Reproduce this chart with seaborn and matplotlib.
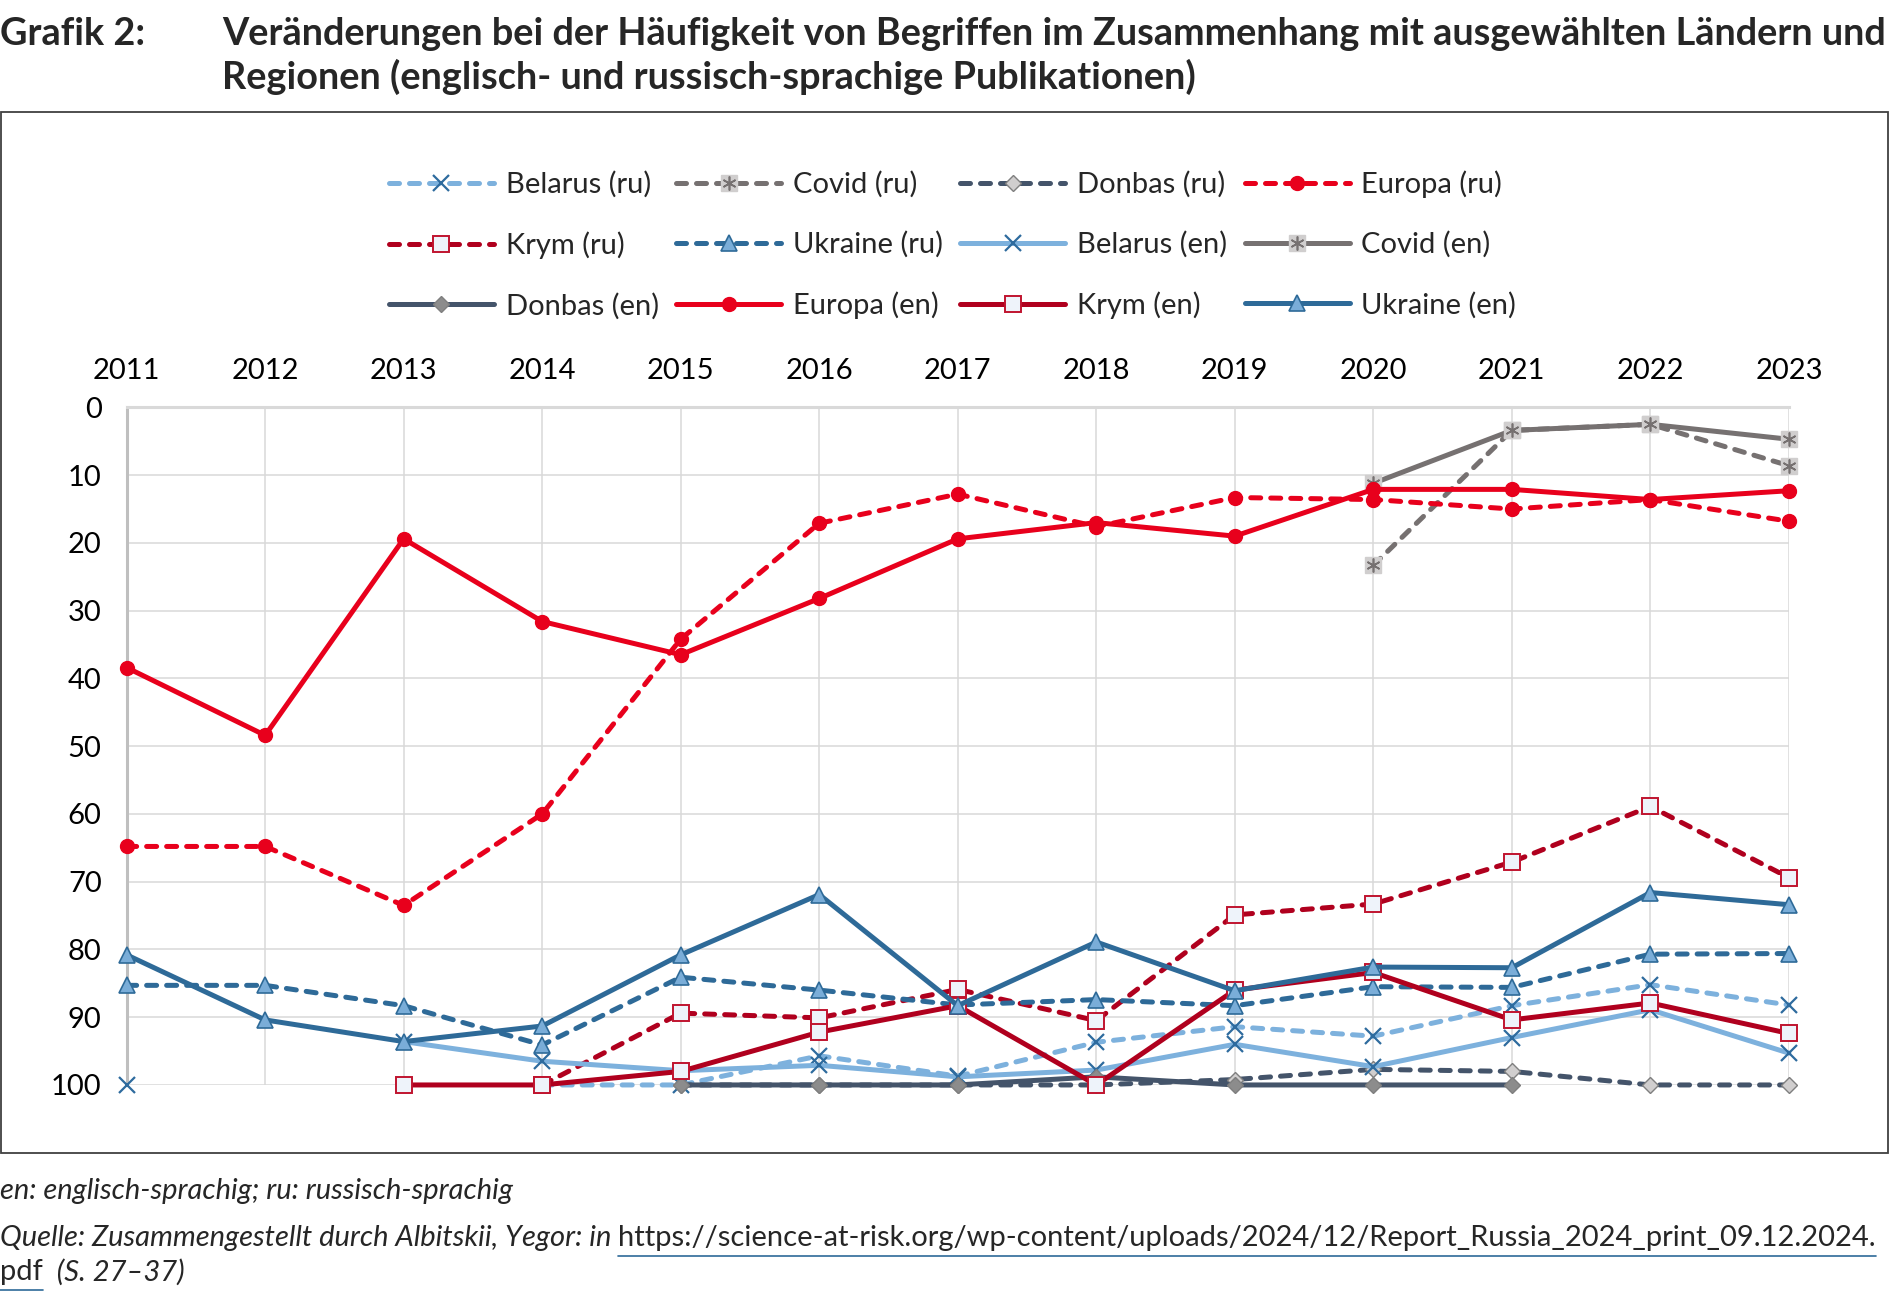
import numpy as np
import pandas as pd
import matplotlib
matplotlib.use("Agg")
import matplotlib.pyplot as plt
import seaborn as sns
from matplotlib.lines import Line2D
from matplotlib.patches import Rectangle

# ---------------- data ----------------
years = list(range(2011, 2024))
nan = np.nan
belarus_ru = [nan, nan, nan, 100, 100, 95.7, 98.7, 93.7, 91.4, 92.8, 88.3, 85.2, 88.2]
covid_ru = [nan, nan, nan, nan, nan, nan, nan, nan, nan, 23.3, 3.4, 2.5, 8.6]
donbas_ru = [nan, nan, nan, nan, 100, 100, 100, 100, 99.2, 97.7, 98.0, 100, 100]
europa_ru = [64.8, 64.8, 73.5, 60.0, 34.2, 17.1, 12.8, 17.6, 13.3, 13.6, 15.0, 13.6, 16.8]
krym_ru = [nan, nan, nan, 100, 89.4, 90.1, 85.9, 90.5, 74.9, 73.3, 67.1, 58.9, 69.4]
ukraine_ru = [85.3, 85.3, 88.3, 94.1, 84.1, 86.0, 88.2, 87.4, 88.3, 85.5, 85.6, 80.7, 80.6]
belarus_en = [100, nan, 93.6, 96.5, 97.9, 97.1, 98.8, 97.8, 94.0, 97.3, 93.0, 88.9, 95.3]
covid_en = [nan, nan, nan, nan, nan, nan, nan, nan, nan, 11.2, 3.4, 2.5, 4.7]
donbas_en = [nan, nan, nan, nan, 100, 100, 100, 98.8, 100, 100, 100, nan, nan]
europa_en = [38.4, 48.4, 19.4, 31.6, 36.5, 28.2, 19.4, 17.0, 19.0, 12.1, 12.1, 13.6, 12.3]
krym_en = [nan, nan, 100, 100, 98.0, 92.2, 88.3, 100, 86.0, 83.4, 90.4, 87.9, 92.4]
ukraine_en = [80.8, 90.4, 93.6, 91.3, 80.8, 71.9, 88.3, 78.9, 86.1, 82.6, 82.7, 71.6, 73.4]

series_names = ["Belarus (ru)", "Covid (ru)", "Donbas (ru)", "Europa (ru)", "Krym (ru)", "Ukraine (ru)",
                "Belarus (en)", "Covid (en)", "Donbas (en)", "Europa (en)", "Krym (en)", "Ukraine (en)"]
series_values = [belarus_ru, covid_ru, donbas_ru, europa_ru, krym_ru, ukraine_ru,
                 belarus_en, covid_en, donbas_en, europa_en, krym_en, ukraine_en]

title_1 = "Veränderungen bei der Häufigkeit von Begriffen im Zusammenhang mit ausgewählten Ländern und"
title_2 = "Regionen (englisch- und russisch-sprachige Publikationen)"

# ---------------- styles ----------------
DASH = (0, (2.0, 2.0))
LW = 3.6
styles = {
    "Belarus": dict(color="#7DB1DD", marker="x", ms=11, mfc="#2E6B9E", mec="#2E6B9E", mew=1.6),
    "Covid":   dict(color="#767171", marker="s", ms=11, mfc="#D0CECE", mec="#D0CECE", mew=1.0),
    "Donbas":  dict(color="#44546A", marker="D", ms=8, mfc="#8C8C8C", mec="#7F7F7F", mew=1.0),
    "Europa":  dict(color="#E8001C", marker="o", ms=10, mfc="#E8001C", mec="#E8001C", mew=1.0),
    "Krym":    dict(color="#B0001E", marker="s", ms=11, mfc="#EEF3FA", mec="#C0142F", mew=1.4),
    "Ukraine": dict(color="#2E6A98", marker="^", ms=11.5, mfc="#7AADD8", mec="#2E6A98", mew=1.2),
}

def style_for(name):
    base = name.split(" ")[0]
    st = dict(styles[base])
    if name.endswith("(ru)") and base == "Donbas":
        st["mfc"] = "#D0CECE"
    st["ls"] = DASH if name.endswith("(ru)") else "-"
    return st

def segments(vals):
    seg, cur, prev_nan = [], 0, True
    for v in vals:
        if np.isnan(v):
            prev_nan = True
            seg.append(-1)
        else:
            if prev_nan:
                cur += 1
            prev_nan = False
            seg.append(cur)
    return seg

sns.set_theme(style="white")
plt.rcParams['font.family'] = ['Lato', 'DejaVu Sans']

fig = plt.figure(figsize=(18.9, 13.02), dpi=100)
ax = fig.add_axes([0.0670, 0.1667, 0.8795, 0.5204])

for i, (name, vals) in enumerate(zip(series_names, series_values)):
    st = style_for(name)
    df = pd.DataFrame({"year": years, "value": vals, "seg": segments(vals)})
    df = df.dropna()
    sns.lineplot(data=df, x="year", y="value", units="seg", estimator=None, sort=False,
                 color=st["color"], linestyle=st["ls"], linewidth=LW,
                 marker=st["marker"], markersize=st["ms"], markerfacecolor=st["mfc"],
                 markeredgecolor=st["mec"], markeredgewidth=st["mew"],
                 dash_capstyle="round", clip_on=False, ax=ax, legend=False, zorder=3 + i * 0.1)
    if name.startswith("Covid"):
        ax.plot(df["year"], df["value"], linestyle="none", marker=(6, 2, 0), ms=10,
                mec="#767171", mew=1.2, clip_on=False, zorder=3.05 + i * 0.1)

ax.set_xlim(2011, 2023)
ax.set_ylim(100, 0)
ax.set_xticks(years)
ax.set_xticklabels([str(y) for y in years])
ax.set_yticks(range(0, 101, 10))
ax.xaxis.tick_top()
ax.tick_params(axis="both", length=0, labelsize=21, colors="black")
ax.tick_params(axis="x", pad=17)
ax.tick_params(axis="y", pad=18)
ax.set_xlabel("")
ax.set_ylabel("")
ax.set_axisbelow(True)
ax.grid(True, color="#D9D9D9", lw=1.1)
ax.spines["right"].set_visible(False)
ax.spines["bottom"].set_visible(False)
ax.spines["left"].set_color("#BFBFBF")
ax.spines["left"].set_linewidth(2.2)
ax.spines["top"].set_color("#D9D9D9")
ax.spines["top"].set_linewidth(2.2)

# legend (row-major order like the reference)
handles = []
for name in series_names:
    st = style_for(name)
    handles.append(Line2D([], [], color=st["color"], ls=st["ls"], lw=LW, marker=st["marker"],
                          ms=st["ms"], mfc=st["mfc"], mec=st["mec"], mew=st["mew"],
                          dash_capstyle="round"))
covid_star = Line2D([], [], linestyle="none", marker=(6, 2, 0), ms=10, mec="#767171", mew=1.2)
handles[1] = (handles[1], covid_star)
handles[7] = (handles[7], covid_star)
order = [0, 4, 8, 1, 5, 9, 2, 6, 10, 3, 7, 11]
leg = fig.legend([handles[k] for k in order], [series_names[k] for k in order],
                 loc="center", bbox_to_anchor=(0.504, 0.812), ncol=4, frameon=False,
                 fontsize=21, handlelength=3.6, handletextpad=0.4, columnspacing=0.6,
                 labelspacing=1.15, borderpad=0)

# frame around chart
fig.patches.append(Rectangle((0.0005, 0.1144), 0.9985, 0.7996, transform=fig.transFigure,
                             fill=False, edgecolor="#404040", lw=1.3))

# title
fig.text(0.0, 1 - 34 / 1302, "Grafik 2:", fontsize=27.3, fontweight="bold", va="center", ha="left")
fig.text(222 / 1890, 1 - 34 / 1302, title_1, fontsize=27.3, fontweight="bold", va="center", ha="left")
fig.text(222 / 1890, 1 - 77 / 1302, title_2, fontsize=27.3, fontweight="bold", va="center", ha="left")

# footer
FS = 21
fig.text(0.0, 1 - 1191 / 1302, "en: englisch-sprachig; ru: russisch-sprachig", fontsize=FS,
         style="italic", va="center", ha="left")
fig.canvas.draw()
r = fig.canvas.get_renderer()
t1 = fig.text(0.0, 1 - 1238 / 1302, "Quelle: Zusammengestellt durch Albitskii, Yegor: in ", fontsize=FS,
              style="italic", va="center", ha="left")
bb = t1.get_window_extent(r)
x_url = bb.x1 / fig.bbox.width
t2 = fig.text(x_url, 1 - 1238 / 1302,
              "https://science-at-risk.org/wp-content/uploads/2024/12/Report_Russia_2024_print_09.12.2024.",
              fontsize=FS, va="center", ha="left")
bb2 = t2.get_window_extent(r)
fig.add_artist(Line2D([x_url, bb2.x1 / fig.bbox.width], [1 - 1256 / 1302] * 2,
                      transform=fig.transFigure, color="#2E6A98", lw=1.2))
t3 = fig.text(0.0, 1 - 1272 / 1302, "pdf", fontsize=FS, va="center", ha="left")
bb3 = t3.get_window_extent(r)
fig.add_artist(Line2D([0, bb3.x1 / fig.bbox.width], [1 - 1290 / 1302] * 2,
                      transform=fig.transFigure, color="#2E6A98", lw=1.2))
fig.text(bb3.x1 / fig.bbox.width, 1 - 1272 / 1302, "  (S. 27–37)", fontsize=FS, style="italic",
         va="center", ha="left")

fig.savefig("out.png", dpi=100)
